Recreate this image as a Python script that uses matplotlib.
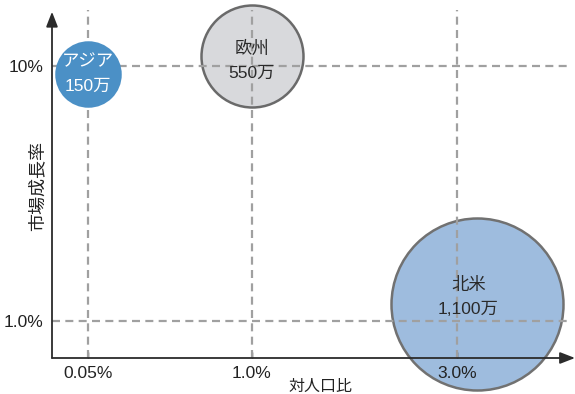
#!/usr/bin/env python3
"""Bubble chart: market growth rate vs. share of population by region."""

import matplotlib

matplotlib.use("Agg")
import matplotlib.pyplot as plt

plt.rcParams["font.family"] = ["Liberation Sans", "Noto Sans CJK JP"]

# data
regions = ["アジア", "欧州", "北米"]
users = ["150万", "550万", "1,100万"]
pop_ratio_pos = [0.0, 1.0, 2.37]       # position on the categorical x scale
growth_rate = [9.3, 10.9, 1.17]        # % (log scale)
x_tick_pos = [0.0, 1.0, 2.25]
x_tick_labels = ["0.05%", "1.0%", "3.0%"]
y_tick_vals = [1.0, 10.0]
y_tick_labels = ["1.0%", "10%"]

# style
bubble_diam_px = [64, 102, 172]
face_colors = ["#4b90c6", "#d8d9dc", "#9ebcde"]
edge_colors = ["#4b90c6", "#6a6a6a", "#717171"]
text_colors = ["white", "#2a2a2a", "#2a2a2a"]
bubble_z = [6, 1, 1]
label_offsets = [(0, 0), (0, -3), (-6, 5)]  # points
GRID = "#a0a0a0"
AXIS = "#2b2b2b"
DASH = (0, (3.6, 2.4))

DPI = 100
fig = plt.figure(figsize=(5.75, 3.94), dpi=DPI)
ax = fig.add_axes([52 / 575, 36 / 394, 523 / 575, 348 / 394])
ax.set_xlim(-0.2195, 2.97)
ax.set_yscale("log")
ax.set_ylim(0.716, 16.58)
for s in ax.spines.values():
    s.set_visible(False)

# dashed guides
for xp in x_tick_pos:
    ax.axvline(xp, color=GRID, lw=1.6, ls=DASH, zorder=3)
for yv in y_tick_vals:
    ax.plot([0, 0.985], [yv, yv], transform=ax.get_yaxis_transform(),
            color=GRID, lw=1.6, ls=DASH, zorder=3)

# bubbles
for i in range(len(regions)):
    s = (bubble_diam_px[i] * 72 / DPI) ** 2
    ax.scatter(pop_ratio_pos[i], growth_rate[i], s=s, c=face_colors[i],
               edgecolors=edge_colors[i], linewidths=1.8, zorder=bubble_z[i],
               clip_on=False)
    ax.annotate(f"{regions[i]}\n{users[i]}", (pop_ratio_pos[i], growth_rate[i]),
                xytext=label_offsets[i], textcoords="offset points",
                ha="center", va="center", fontsize=12.5, linespacing=1.75,
                color=text_colors[i], zorder=7)

# axis arrows
arrow = dict(arrowstyle="-|>,head_length=0.9,head_width=0.35", color=AXIS,
             lw=1.3, shrinkA=0, shrinkB=0)
ax.annotate("", xy=(1.0, 0), xytext=(0, 0), xycoords="axes fraction",
            arrowprops=arrow, zorder=5, annotation_clip=False)
ax.annotate("", xy=(0, 0.995), xytext=(0, 0), xycoords="axes fraction",
            arrowprops=arrow, zorder=5, annotation_clip=False)

ax.set_xticks(x_tick_pos, x_tick_labels)
ax.set_yticks(y_tick_vals, y_tick_labels)
ax.minorticks_off()
ax.tick_params(axis="x", direction="in", length=4, width=1, color=AXIS,
               labelsize=12.5, labelcolor="#222222", pad=6)
ax.tick_params(axis="y", length=0, labelsize=12.5, labelcolor="#222222", pad=6)
for t in ax.get_xticklabels():
    t.set_zorder(8)

fig.text(320 / 575, 1 - 386 / 394, "対人口比", fontsize=11.5, color="#222222",
         ha="center", va="center")
fig.text(38 / 575, 1 - 186 / 394, "市場成長率", fontsize=13, color="#222222",
         ha="center", va="center", rotation=90)

fig.savefig("out.png", dpi=DPI)
